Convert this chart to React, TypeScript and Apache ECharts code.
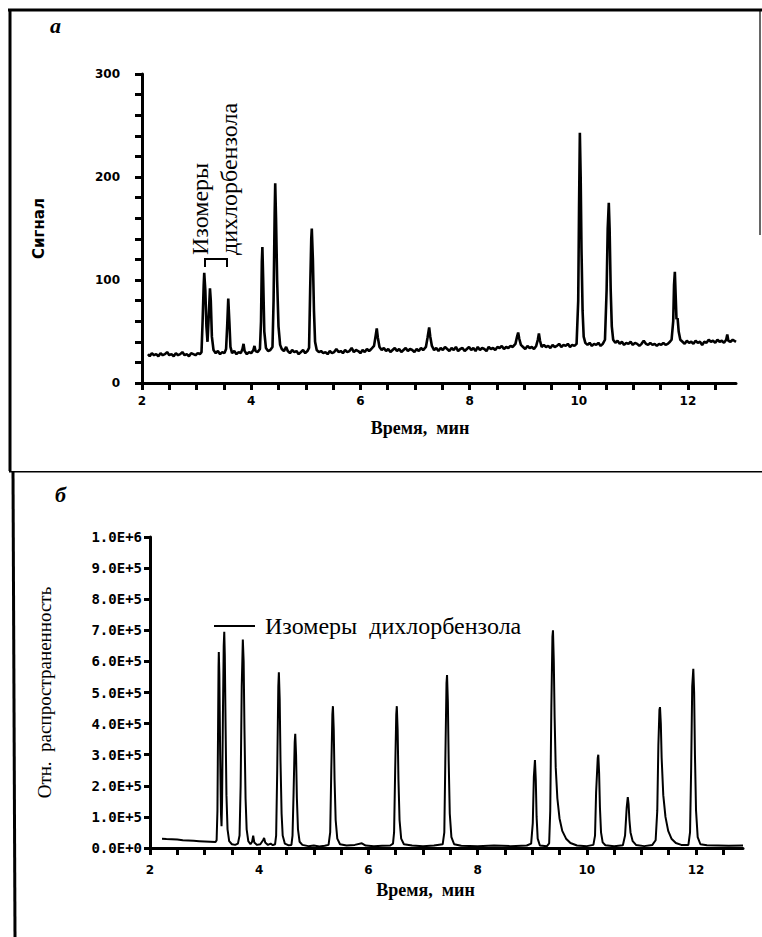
import React, { useEffect, useRef } from "react";
import * as echarts from "echarts";

// Top chromatogram (a): [time, signal]
const topSeries: [number, number][] = [
  [2.11, 28], [2.14, 26], [2.18, 29], [2.22, 27], [2.26, 28], [2.30, 26], [2.34, 29], [2.38, 27], [2.42, 28], [2.46, 30],
  [2.50, 27], [2.54, 28], [2.58, 26], [2.62, 29], [2.66, 27], [2.70, 28], [2.74, 30], [2.78, 27], [2.82, 28], [2.86, 26],
  [2.90, 29], [2.94, 28], [2.98, 27], [3.02, 29], [3.06, 28], [3.09, 30],
  [3.11, 60], [3.13, 95], [3.14, 107], [3.16, 90], [3.18, 55], [3.20, 40], [3.22, 62], [3.245, 92], [3.26, 80], [3.28, 45],
  [3.31, 32], [3.35, 29], [3.39, 31], [3.43, 28], [3.47, 30], [3.51, 29], [3.54, 33],
  [3.56, 55], [3.58, 82], [3.60, 60], [3.62, 35], [3.65, 29], [3.69, 31], [3.73, 28], [3.77, 30], [3.81, 29], [3.84, 33],
  [3.86, 38], [3.88, 31], [3.92, 28], [3.96, 30], [4.00, 29], [4.04, 32], [4.06, 36], [4.08, 31], [4.12, 30], [4.16, 33],
  [4.18, 60], [4.195, 118], [4.205, 132], [4.22, 100], [4.24, 50], [4.27, 34], [4.31, 31], [4.35, 32], [4.39, 35],
  [4.41, 80], [4.43, 165], [4.44, 194], [4.455, 160], [4.475, 100], [4.50, 55], [4.53, 37], [4.56, 33], [4.60, 31],
  [4.64, 35], [4.67, 31], [4.71, 29], [4.75, 32], [4.79, 30], [4.83, 31], [4.87, 28], [4.91, 30], [4.95, 32], [4.99, 29],
  [5.03, 31], [5.06, 34],
  [5.08, 90], [5.10, 140], [5.11, 150], [5.13, 120], [5.15, 70], [5.17, 40], [5.20, 32], [5.24, 30], [5.28, 31], [5.32, 29],
  [5.36, 30], [5.40, 28], [5.44, 31], [5.48, 29], [5.52, 30], [5.56, 33], [5.60, 30], [5.64, 31], [5.68, 29], [5.72, 32],
  [5.76, 30], [5.80, 31], [5.84, 34], [5.88, 30], [5.92, 32], [5.96, 31], [6.00, 29], [6.04, 32], [6.08, 30], [6.12, 33],
  [6.16, 31], [6.20, 33], [6.25, 36],
  [6.28, 46], [6.30, 53], [6.32, 44], [6.35, 35], [6.39, 32], [6.43, 34], [6.47, 31], [6.51, 33], [6.55, 30], [6.59, 32],
  [6.63, 34], [6.67, 31], [6.71, 33], [6.75, 30], [6.79, 32], [6.83, 34], [6.87, 31], [6.91, 33], [6.95, 32], [6.99, 30],
  [7.03, 33], [7.07, 31], [7.11, 34], [7.15, 32], [7.20, 35],
  [7.23, 44], [7.26, 54], [7.28, 45], [7.31, 36], [7.35, 32], [7.39, 34], [7.43, 31], [7.47, 34], [7.51, 32], [7.55, 35],
  [7.59, 33], [7.63, 31], [7.67, 34], [7.71, 32], [7.75, 35], [7.79, 31], [7.83, 33], [7.87, 34], [7.91, 31], [7.95, 33],
  [7.99, 35], [8.03, 32], [8.07, 34], [8.11, 31], [8.15, 35], [8.19, 32], [8.23, 34], [8.27, 33], [8.31, 31], [8.35, 35],
  [8.39, 33], [8.43, 34], [8.47, 32], [8.51, 35], [8.55, 34], [8.59, 36], [8.63, 33], [8.67, 35], [8.71, 34], [8.75, 36],
  [8.79, 35], [8.84, 38],
  [8.87, 45], [8.89, 49], [8.91, 43], [8.94, 37], [8.98, 35], [9.02, 33], [9.06, 36], [9.10, 34], [9.14, 35], [9.18, 33],
  [9.22, 36],
  [9.25, 42], [9.27, 48], [9.29, 41], [9.32, 35], [9.36, 37], [9.40, 35], [9.44, 36], [9.48, 34], [9.52, 37], [9.56, 35],
  [9.60, 36], [9.64, 38], [9.68, 35], [9.72, 37], [9.76, 36], [9.80, 38], [9.84, 35], [9.88, 37], [9.92, 36], [9.96, 38],
  [9.99, 80], [10.005, 170], [10.02, 243], [10.035, 200], [10.05, 130], [10.07, 70], [10.09, 45], [10.12, 39], [10.16, 37],
  [10.20, 39], [10.24, 36], [10.28, 38], [10.32, 37], [10.36, 39], [10.40, 36], [10.44, 38], [10.48, 42],
  [10.51, 90], [10.53, 150], [10.55, 175], [10.565, 150], [10.585, 90], [10.605, 55], [10.63, 42], [10.67, 39], [10.71, 41],
  [10.75, 38], [10.79, 40], [10.83, 37], [10.87, 39], [10.91, 38], [10.95, 40], [10.99, 37], [11.03, 39], [11.07, 38],
  [11.11, 36], [11.15, 38], [11.19, 41], [11.23, 38], [11.27, 37], [11.31, 39], [11.35, 37], [11.39, 38], [11.43, 36],
  [11.47, 38], [11.51, 37], [11.55, 39], [11.59, 37], [11.63, 38], [11.67, 40], [11.70, 42],
  [11.73, 60], [11.745, 95], [11.76, 108], [11.775, 85], [11.79, 62], [11.81, 63], [11.83, 50], [11.86, 42], [11.90, 40],
  [11.94, 38], [11.98, 41], [12.02, 39], [12.06, 40], [12.10, 38], [12.14, 41], [12.18, 39], [12.22, 40], [12.26, 37],
  [12.30, 40], [12.34, 39], [12.38, 42], [12.42, 40], [12.46, 41], [12.50, 39], [12.54, 42], [12.58, 40], [12.62, 41],
  [12.66, 39], [12.70, 42], [12.72, 47], [12.74, 41], [12.78, 40], [12.82, 42], [12.88, 40],
];

// Bottom chromatogram (б): [time, relative abundance]
const bottomSeries: [number, number][] = [
  [2.22, 30000], [2.3, 29000], [2.4, 28000], [2.5, 27000], [2.6, 25000], [2.7, 24000], [2.8, 23000], [2.9, 22000],
  [3.0, 21000], [3.1, 20000], [3.2, 19000], [3.22, 25000],
  [3.235, 120000], [3.245, 350000], [3.255, 580000], [3.26, 630000], [3.27, 560000], [3.285, 300000], [3.30, 110000],
  [3.31, 70000], [3.32, 150000], [3.335, 420000], [3.35, 650000], [3.36, 695000], [3.37, 620000], [3.385, 380000],
  [3.40, 170000], [3.42, 60000], [3.45, 22000], [3.50, 12000], [3.56, 10000], [3.61, 14000], [3.64, 40000],
  [3.66, 200000], [3.68, 520000], [3.70, 670000], [3.715, 600000], [3.73, 380000], [3.75, 160000], [3.77, 60000],
  [3.80, 22000], [3.84, 12000], [3.87, 20000], [3.89, 40000], [3.91, 18000], [3.96, 10000], [4.02, 12000],
  [4.07, 25000], [4.09, 32000], [4.11, 18000], [4.16, 10000], [4.21, 14000], [4.25, 9000], [4.29, 12000],
  [4.31, 40000], [4.33, 250000], [4.35, 520000], [4.36, 565000], [4.375, 480000], [4.39, 280000], [4.41, 110000],
  [4.43, 40000], [4.47, 14000], [4.53, 9000], [4.59, 10000], [4.61, 40000], [4.63, 180000], [4.65, 340000],
  [4.66, 367000], [4.675, 300000], [4.69, 160000], [4.71, 60000], [4.74, 20000], [4.79, 10000], [4.90, 6000],
  [5.00, 8000], [5.10, 5000], [5.20, 7000], [5.27, 10000], [5.30, 50000], [5.32, 250000], [5.34, 430000],
  [5.35, 456000], [5.365, 380000], [5.38, 220000], [5.40, 90000], [5.43, 30000], [5.48, 12000], [5.60, 8000],
  [5.75, 10000], [5.88, 15000], [5.95, 8000], [6.10, 6000], [6.25, 7000], [6.40, 8000], [6.45, 14000],
  [6.47, 50000], [6.49, 250000], [6.51, 430000], [6.52, 456000], [6.535, 380000], [6.55, 220000], [6.57, 90000],
  [6.60, 30000], [6.65, 12000], [6.80, 8000], [7.00, 6000], [7.20, 8000], [7.36, 12000], [7.39, 50000],
  [7.41, 300000], [7.43, 530000], [7.44, 556000], [7.455, 470000], [7.47, 280000], [7.49, 110000], [7.52, 35000],
  [7.57, 12000], [7.70, 7000], [8.00, 6000], [8.30, 8000], [8.60, 6000], [8.90, 8000], [8.98, 14000],
  [9.01, 80000], [9.03, 230000], [9.05, 283000], [9.065, 220000], [9.08, 100000], [9.10, 30000], [9.14, 8000],
  [9.27, 6000], [9.31, 15000], [9.33, 120000], [9.35, 450000], [9.37, 680000], [9.38, 700000], [9.395, 600000],
  [9.41, 420000], [9.43, 260000], [9.46, 160000], [9.50, 95000], [9.55, 55000], [9.62, 30000], [9.70, 16000],
  [9.82, 8000], [10.00, 6000], [10.12, 10000], [10.15, 40000], [10.17, 180000], [10.20, 290000], [10.21, 300000],
  [10.225, 240000], [10.24, 130000], [10.26, 50000], [10.29, 18000], [10.34, 9000], [10.50, 6000], [10.66, 9000],
  [10.70, 40000], [10.73, 130000], [10.75, 164000], [10.765, 140000], [10.78, 90000], [10.80, 50000],
  [10.84, 22000], [10.90, 10000], [11.05, 6000], [11.20, 10000], [11.26, 25000], [11.29, 120000], [11.31, 330000],
  [11.33, 445000], [11.34, 453000], [11.355, 400000], [11.37, 290000], [11.40, 170000], [11.44, 100000],
  [11.49, 55000], [11.55, 30000], [11.63, 16000], [11.73, 10000], [11.86, 10000], [11.89, 50000], [11.91, 250000],
  [11.93, 520000], [11.95, 576000], [11.965, 500000], [11.98, 300000], [12.00, 120000], [12.03, 35000],
  [12.08, 12000], [12.20, 9000], [12.40, 8000], [12.60, 7000], [12.86, 8000],
];

// Axis ticks and labels
const xLabelValues = [2, 4, 6, 8, 10, 12];
const xTickValues = [2, 2.5, 3, 3.5, 4, 4.5, 5, 5.5, 6, 6.5, 7, 7.5, 8, 8.5, 9, 9.5, 10, 10.5, 11, 11.5, 12, 12.5];
const topYLabelValues = [0, 100, 200, 300];
const topYTickValues = [0, 20, 40, 60, 80, 100, 120, 140, 160, 180, 200, 220, 240, 260, 280, 300];
const bottomYValues = [0, 100000, 200000, 300000, 400000, 500000, 600000, 700000, 800000, 900000, 1000000];

const mkAxisLine = () => ({ show: true, lineStyle: { color: "#000", width: 3 } });
const mkTick = (values: number[], length: number) => ({
  show: true,
  length,
  customValues: values,
  lineStyle: { color: "#000", width: 3 },
});
const mkTickLabel = (values: number[], margin: number) => ({
  show: true,
  fontFamily: "DejaVu Sans",
  fontWeight: "bold",
  fontSize: 12,
  color: "#000",
  margin,
  customValues: values,
});

const App: React.FC = () => {
  const topRef = useRef<HTMLDivElement>(null);
  const botRef = useRef<HTMLDivElement>(null);
  useEffect(() => {
    if (!topRef.current || !botRef.current) return;
    const top = echarts.init(topRef.current, null, { renderer: "svg" });
    const bot = echarts.init(botRef.current, null, { renderer: "svg" });

    // Panel a (page y 0..471)
    top.setOption({
      animation: false,
      grid: { left: 142, right: 26, top: 74, bottom: 471 - 383 },
      xAxis: {
        type: "value",
        min: 2,
        max: 12.88,
        axisLine: mkAxisLine(),
        axisTick: mkTick(xTickValues, 7),
        splitLine: { show: false },
        axisLabel: mkTickLabel(xLabelValues, 12),
        name: "Время,  мин",
        nameLocation: "middle",
        nameGap: 36,
        nameTextStyle: {
          fontFamily: "Liberation Serif",
          fontWeight: "bold",
          fontSize: 18,
          color: "#000",
          padding: [0, 38, 0, 0],
        },
      },
      yAxis: {
        type: "value",
        min: 0,
        max: 300,
        axisLine: mkAxisLine(),
        axisTick: mkTick(topYTickValues, 7),
        splitLine: { show: false },
        axisLabel: mkTickLabel(topYLabelValues, 22),
        name: "Сигнал",
        nameLocation: "middle",
        nameRotate: 90,
        nameGap: 96,
        nameTextStyle: { fontFamily: "DejaVu Sans", fontWeight: "bold", fontSize: 15, color: "#000" },
      },
      series: [
        {
          type: "line",
          data: topSeries,
          showSymbol: false,
          lineStyle: { color: "#000", width: 2.6 },
        },
      ],
      graphic: [
        { type: "line", shape: { x1: 8, y1: 10, x2: 762, y2: 10 }, style: { stroke: "#000", lineWidth: 3 } },
        { type: "line", shape: { x1: 10, y1: 9, x2: 10, y2: 471 }, style: { stroke: "#000", lineWidth: 3 } },
        { type: "line", shape: { x1: 760, y1: 10, x2: 760, y2: 235 }, style: { stroke: "#000", lineWidth: 1.2 } },
        {
          type: "text",
          x: 50,
          y: 36,
          style: {
            text: "a",
            fontFamily: "Liberation Serif",
            fontStyle: "italic",
            fontWeight: "bold",
            fontSize: 22,
            fill: "#000",
            verticalAlign: "bottom",
          },
        },
        {
          type: "text",
          x: 200,
          y: 255,
          rotation: Math.PI / 2,
          style: {
            text: "Изомеры",
            fontFamily: "Liberation Serif",
            fontSize: 24,
            fill: "#000",
            align: "left",
            verticalAlign: "middle",
          },
        },
        {
          type: "text",
          x: 229,
          y: 255,
          rotation: Math.PI / 2,
          style: {
            text: "дихлорбензола",
            fontFamily: "Liberation Serif",
            fontSize: 24,
            fill: "#000",
            align: "left",
            verticalAlign: "middle",
          },
        },
        {
          type: "polyline",
          shape: { points: [[205, 267], [205, 259], [227, 259], [227, 267]] },
          style: { stroke: "#000", lineWidth: 2, fill: "none" },
        },
      ],
    });

    // Panel б (page y 471..937, local y = page y - 471)
    bot.setOption({
      animation: false,
      grid: { left: 150, right: 19, top: 537 - 471, bottom: 937 - 848 },
      xAxis: {
        type: "value",
        min: 2,
        max: 12.86,
        axisLine: mkAxisLine(),
        axisTick: mkTick(xTickValues, 7),
        splitLine: { show: false },
        axisLabel: mkTickLabel(xLabelValues, 16),
        name: "Время,  мин",
        nameLocation: "middle",
        nameGap: 33,
        nameTextStyle: {
          fontFamily: "Liberation Serif",
          fontWeight: "bold",
          fontSize: 18,
          color: "#000",
          padding: [0, 42, 0, 0],
        },
      },
      yAxis: {
        type: "value",
        min: 0,
        max: 1000000,
        axisLine: mkAxisLine(),
        axisTick: mkTick(bottomYValues, 6),
        splitLine: { show: false },
        axisLabel: {
          show: true,
          fontFamily: "DejaVu Sans Mono",
          fontWeight: "bold",
          fontSize: 14,
          color: "#000",
          margin: 8,
          customValues: bottomYValues,
          formatter: (v: number) => v.toExponential(1).toUpperCase(),
        },
        name: "Отн.  распространенность",
        nameLocation: "middle",
        nameRotate: 90,
        nameGap: 96,
        nameTextStyle: { fontFamily: "Liberation Serif", fontSize: 19, color: "#000" },
      },
      series: [
        {
          type: "line",
          data: bottomSeries,
          showSymbol: false,
          lineStyle: { color: "#000", width: 2 },
        },
      ],
      graphic: [
        { type: "line", shape: { x1: 9, y1: 0, x2: 762, y2: 0 }, style: { stroke: "#000", lineWidth: 3 } },
        { type: "line", shape: { x1: 13, y1: 0, x2: 15, y2: 466 }, style: { stroke: "#000", lineWidth: 3 } },
        {
          type: "text",
          x: 55,
          y: 34,
          style: {
            text: "б",
            fontFamily: "Liberation Serif",
            fontStyle: "italic",
            fontWeight: "bold",
            fontSize: 22,
            fill: "#000",
            verticalAlign: "bottom",
          },
        },
        { type: "line", shape: { x1: 214, y1: 155, x2: 255, y2: 155 }, style: { stroke: "#000", lineWidth: 2 } },
        {
          type: "text",
          x: 265,
          y: 155,
          style: {
            text: "Изомеры  дихлорбензола",
            fontFamily: "Liberation Serif",
            fontSize: 24,
            fill: "#000",
            verticalAlign: "middle",
          },
        },
      ],
    });
    return () => {
      top.dispose();
      bot.dispose();
    };
  }, []);
  return (
    <div style={{ position: "absolute", left: 0, top: 0, width: 762, height: 937, background: "#fff" }}>
      <div ref={topRef} style={{ position: "absolute", left: 0, top: 0, width: 762, height: 471 }} />
      <div ref={botRef} style={{ position: "absolute", left: 0, top: 471, width: 762, height: 466 }} />
    </div>
  );
};

export default App;
